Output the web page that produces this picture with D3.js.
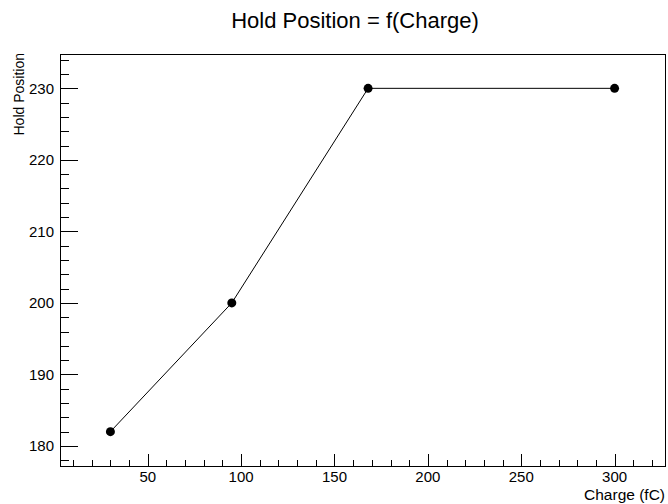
<!DOCTYPE html>
<html>
<head>
<meta charset="utf-8">
<script src="https://cdn.jsdelivr.net/npm/d3@7"></script>
<style>
  body { margin: 0; background: #fff; }
  svg { display: block; }
  text { font-family: "Liberation Sans", Arial, sans-serif; fill: #000; }
</style>
</head>
<body>
<svg id="chart" width="668" height="504"></svg>
<script>
// data
const charge = [30, 95, 168, 300];
const holdPos = [182, 200, 230, 230];
const xTicks = [50, 100, 150, 200, 250, 300];
const yTicks = [180, 190, 200, 210, 220, 230];

const width = 668;
const height = 504;
let padLeft = 60, padRight = 665, padTop = 54, padBottom = 466;

const svg = d3.select("#chart");

// ROOT style range: 10% margin around the data
let xSpan = d3.max(charge) - d3.min(charge);
let ySpan = d3.max(holdPos) - d3.min(holdPos);
let xScale = d3.scaleLinear()
  .domain([d3.min(charge) - 0.1 * xSpan, d3.max(charge) + 0.1 * xSpan])
  .range([padLeft, padRight]);
let yScale = d3.scaleLinear()
  .domain([d3.min(holdPos) - 0.1 * ySpan, d3.max(holdPos) + 0.1 * ySpan])
  .range([padBottom, padTop]);

// frame
svg.append("rect")
  .attr("x", padLeft + 0.5).attr("y", padTop + 0.5)
  .attr("width", padRight - padLeft).attr("height", padBottom - padTop)
  .attr("fill", "none").attr("stroke", "#000").attr("stroke-width", 1);

// x axis: major ticks every 50, minor every 10
let xMinor = d3.range(10, 330, 10).filter(v => v >= xScale.domain()[0] && v <= xScale.domain()[1]);
let xAxis = svg.append("g");
xAxis.selectAll("line").data(xMinor).enter().append("line")
  .attr("x1", d => Math.round(xScale(d)) + 0.5)
  .attr("x2", d => Math.round(xScale(d)) + 0.5)
  .attr("y1", padBottom)
  .attr("y2", d => padBottom - (d % 50 === 0 ? 12 : 6))
  .attr("stroke", "#000");
xAxis.selectAll("text").data(xTicks).enter().append("text")
  .attr("x", d => xScale(d))
  .attr("y", 482)
  .attr("text-anchor", "middle")
  .style("font-size", "15px")
  .text(d => d);

// y axis: major ticks every 10, minor every 2
let yMinor = d3.range(178, 235, 2).filter(v => v >= yScale.domain()[0] && v <= yScale.domain()[1]);
let yAxis = svg.append("g");
yAxis.selectAll("line").data(yMinor).enter().append("line")
  .attr("y1", d => Math.round(yScale(d)) + 0.5)
  .attr("y2", d => Math.round(yScale(d)) + 0.5)
  .attr("x1", padLeft)
  .attr("x2", d => padLeft + (d % 10 === 0 ? 18 : 9))
  .attr("stroke", "#000");
yAxis.selectAll("text").data(yTicks).enter().append("text")
  .attr("x", padLeft - 6)
  .attr("y", d => yScale(d) + 5.5)
  .attr("text-anchor", "end")
  .style("font-size", "15px")
  .text(d => d);

// titles
svg.append("text")
  .attr("x", 355).attr("y", 28)
  .attr("text-anchor", "middle")
  .style("font-size", "22px")
  .text("Hold Position = f(Charge)");

svg.append("text")
  .attr("x", 665).attr("y", 500)
  .attr("text-anchor", "end")
  .style("font-size", "15.5px")
  .text("Charge (fC)");

svg.append("text")
  .attr("transform", "translate(24,53) rotate(-90)")
  .attr("text-anchor", "end")
  .style("font-size", "14px")
  .text("Hold Position");

// graph line and markers
let pts = charge.map((c, i) => [c, holdPos[i]]);
let line = d3.line().x(d => xScale(d[0])).y(d => yScale(d[1]));
svg.append("path")
  .attr("d", line(pts))
  .attr("fill", "none")
  .attr("stroke", "#000")
  .attr("stroke-width", 1);

svg.selectAll("circle.pt").data(pts).enter().append("circle")
  .attr("class", "pt")
  .attr("cx", d => xScale(d[0]))
  .attr("cy", d => yScale(d[1]))
  .attr("r", 4.5)
  .attr("fill", "#000");
</script>
</body>
</html>
